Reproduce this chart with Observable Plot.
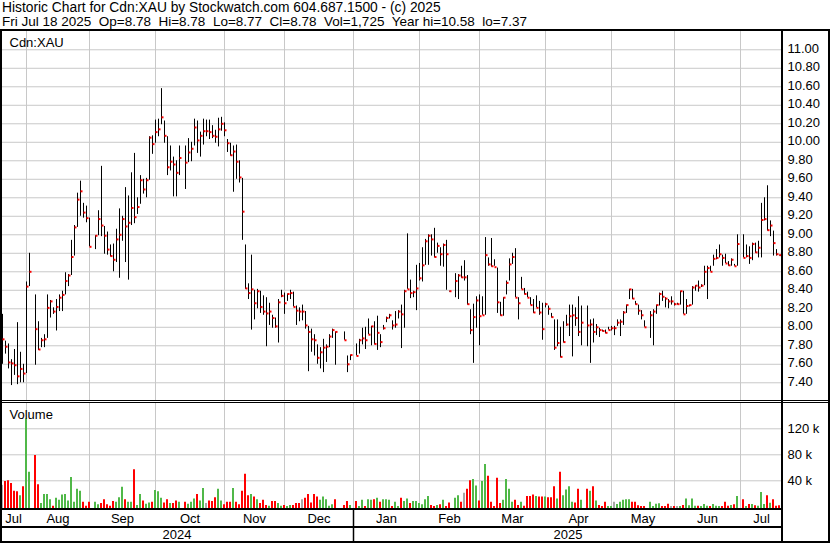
<!DOCTYPE html>
<html><head><meta charset="utf-8">
<script src="https://cdn.jsdelivr.net/npm/d3@7"></script>
<script src="https://cdn.jsdelivr.net/npm/@observablehq/plot@0.6"></script>
<style>
body{margin:0;background:#fff}
#wrap{position:relative;width:830px;height:543px;font-family:"Liberation Sans",Arial,sans-serif;color:#000;overflow:hidden;background:#fff}
.hdr{position:absolute;left:2px;font-size:13.5px;line-height:14px;white-space:pre}
.ln{position:absolute;background:#000}
.panel{position:absolute;left:0}
.panel svg{overflow:visible}
</style></head><body>
<div id="wrap">
<div class="hdr" style="top:1px;font-size:13.8px">Historic Chart for Cdn:XAU by Stockwatch.com 604.687.1500 - (c) 2025</div>
<div class="hdr" style="top:15px">Fri Jul 18 2025  Op=8.78  Hi=8.78  Lo=8.77  Cl=8.78  Vol=1,725  Year hi=10.58  lo=7.37</div>
<div id="price" class="panel" style="top:30px"></div>
<div id="vol" class="panel" style="top:402px"></div>
<div id="axis" class="panel" style="top:510px"></div>
<div class="ln" style="left:0;top:29px;width:830px;height:2px"></div>
<div class="ln" style="left:0;top:29px;width:2px;height:514px"></div>
<div class="ln" style="left:828px;top:29px;width:2px;height:514px"></div>
<div class="ln" style="left:781px;top:29px;width:2px;height:514px"></div>
<div class="ln" style="left:0;top:400px;width:830px;height:1px"></div>
<div class="ln" style="left:0;top:402px;width:830px;height:1px"></div>
<div class="ln" style="left:0;top:508px;width:783px;height:2px"></div>
<div class="ln" style="left:0;top:526px;width:783px;height:2px"></div>
<div class="ln" style="left:0;top:541px;width:830px;height:2px"></div>
</div>
<script>
// one slot per weekday, Jul 22 2024 .. Jul 18 2025 (null = market holiday)
const highs = [
 8.14,7.85,7.82,7.65,7.76,8.05,7.73,7.60,8.49,8.80,
 null,8.35,8.06,7.88,7.92,8.35,8.29,8.21,8.30,8.35,
 8.39,8.59,8.57,8.94,9.10,9.45,9.58,9.34,9.31,9.18,
 null,8.99,9.26,9.74,9.09,9.03,8.89,8.90,9.06,9.28,
 9.20,9.51,9.42,9.67,9.88,9.40,9.64,9.60,9.61,10.06,
 10.07,10.24,10.25,10.58,10.23,10.06,9.96,9.84,9.80,9.96,
 null,9.96,10.04,10.00,10.25,10.23,10.11,10.25,10.24,10.24,
 10.18,10.13,10.26,10.27,10.21,10.03,9.99,9.96,9.97,9.80,
 9.61,8.89,8.47,8.78,8.40,8.41,8.39,8.34,8.32,8.26,
 8.13,8.10,8.30,8.40,8.37,8.36,8.40,8.38,8.23,8.21,
 8.24,8.17,8.01,7.98,7.92,7.81,7.78,7.87,7.81,7.92,
 7.98,7.95,null,null,7.95,7.69,7.70,null,7.82,7.87,
 7.99,8.00,8.09,8.01,8.06,8.12,7.92,8.02,8.11,8.14,
 8.07,8.17,8.18,8.24,8.40,9.01,8.51,8.39,8.67,8.69,
 8.86,8.95,9.00,9.00,9.07,8.91,8.86,8.90,8.94,8.39,
 null,8.58,8.57,8.66,8.72,8.56,8.19,8.25,8.33,8.35,
 8.33,8.97,8.75,8.96,8.73,8.64,8.27,8.32,8.50,8.74,
 8.80,8.85,8.32,8.54,8.42,8.38,8.32,8.30,8.34,8.28,
 8.26,8.26,8.23,8.15,8.08,8.08,8.00,8.06,8.13,8.24,
 8.24,8.21,8.33,8.23,null,8.23,8.08,8.09,8.03,7.99,
 7.97,7.97,8.00,8.01,8.01,8.08,8.08,8.17,8.24,8.41,
 8.41,8.28,8.24,8.18,8.07,null,8.17,8.19,8.24,8.37,
 8.39,8.32,8.30,8.33,8.26,8.26,8.39,8.39,8.30,8.24,
 8.44,8.45,8.50,8.46,8.66,8.66,8.66,8.78,8.84,8.89,
 8.78,8.79,8.71,8.74,8.68,9.00,null,9.00,8.89,8.87,
 8.91,8.91,8.93,9.34,9.40,9.53,9.15,9.04,8.84,8.78];
const lows = [
 7.60,7.71,7.55,7.37,7.48,7.38,7.40,7.40,7.50,8.44,
 null,7.59,7.75,7.78,7.78,7.88,8.10,8.14,7.96,8.17,
 8.17,8.35,8.44,8.56,8.77,9.08,9.20,9.18,9.13,8.87,
 null,8.84,8.99,8.98,8.79,8.78,8.76,8.60,8.70,8.53,
 8.93,8.70,8.51,9.10,9.12,9.22,9.33,9.44,9.40,9.59,
 9.87,9.99,10.06,10.19,9.99,9.64,9.69,9.41,9.41,9.64,
 null,9.49,9.78,9.79,9.96,9.88,9.84,9.97,10.06,10.03,
 10.04,9.99,9.95,10.12,10.06,9.89,9.85,9.46,9.60,9.56,
 8.94,8.41,8.30,7.97,8.08,8.20,8.15,8.13,7.79,8.02,
 7.99,7.99,7.83,8.32,8.14,8.28,8.30,8.22,8.02,8.06,
 8.07,7.98,7.52,7.73,7.69,7.60,7.55,7.51,7.62,7.78,
 7.88,7.59,null,null,7.86,7.51,7.64,null,7.69,7.71,
 7.81,7.76,7.92,7.80,7.81,7.75,7.78,7.97,8.05,8.09,
 7.97,7.99,8.09,7.77,7.99,8.41,8.31,8.32,8.18,8.50,
 8.49,8.67,8.67,8.77,8.75,8.80,8.66,8.65,8.40,8.38,
 null,8.32,8.30,8.53,8.50,8.24,7.92,7.61,7.99,7.80,
 8.13,8.13,8.66,8.65,8.66,8.15,8.12,8.12,8.35,8.50,
 8.68,8.32,8.08,8.41,8.35,8.32,8.24,8.15,8.21,8.13,
 7.86,8.21,8.13,8.10,7.75,7.79,7.67,7.83,8.01,7.90,
 7.68,8.01,7.90,7.80,null,7.79,7.61,7.83,7.91,7.89,
 7.95,7.93,7.97,7.96,7.91,8.01,7.90,8.02,8.15,8.30,
 8.30,8.24,8.13,8.08,8.00,null,7.88,7.80,8.14,8.23,
 8.28,8.21,8.20,8.24,8.23,8.24,8.24,8.14,8.14,8.22,
 8.24,8.39,8.38,8.43,8.45,8.30,8.60,8.66,8.73,8.75,
 8.66,8.69,8.66,8.66,8.66,8.66,null,8.75,8.75,8.68,
 8.72,8.80,8.75,8.75,9.15,9.04,8.98,8.77,8.77,8.77];
const closes = [
 7.87,7.79,7.62,7.61,7.59,7.47,7.55,7.50,8.44,8.60,
 null,7.98,7.76,7.86,7.87,8.21,8.28,8.17,8.22,8.32,
 8.35,8.50,8.56,8.76,9.08,9.38,9.47,9.24,9.18,8.87,
 null,8.99,9.17,9.10,8.99,8.84,8.77,8.73,8.95,9.00,
 9.17,9.09,9.13,9.29,9.19,9.30,9.59,9.49,9.59,10.05,
 9.98,10.11,10.14,10.27,10.07,9.73,9.79,9.76,9.67,9.83,
 null,9.78,9.89,9.93,10.16,10.02,10.07,10.12,10.12,10.11,
 10.07,10.06,10.14,10.20,10.13,9.99,9.86,9.90,9.79,9.62,
 9.25,8.42,8.37,8.41,8.26,8.39,8.22,8.17,8.15,8.17,
 8.10,8.01,8.27,8.34,8.26,8.36,8.37,8.22,8.18,8.17,
 8.17,8.02,7.95,7.87,7.86,7.67,7.73,7.78,7.79,7.90,
 7.97,7.95,null,null,7.86,7.60,7.70,null,7.69,7.86,
 7.88,7.86,7.92,8.01,7.82,7.94,7.84,7.99,8.10,8.13,
 8.02,8.03,8.17,8.14,8.39,8.41,8.37,8.38,8.42,8.53,
 8.67,8.93,8.99,8.95,8.76,8.88,8.79,8.89,8.79,8.39,
 null,8.50,8.56,8.54,8.54,8.25,7.97,8.11,8.29,8.12,
 8.13,8.78,8.68,8.66,8.65,8.27,8.13,8.32,8.48,8.68,
 8.76,8.32,8.26,8.41,8.36,8.32,8.24,8.16,8.21,8.16,
 7.98,8.25,8.20,8.11,7.78,7.83,7.68,7.84,8.03,8.12,
 8.13,8.10,7.95,8.05,null,8.02,8.03,7.95,8.00,7.97,
 7.96,7.94,7.97,7.99,7.99,8.05,8.06,8.16,8.24,8.41,
 8.31,8.25,8.18,8.13,8.00,null,8.13,8.17,8.24,8.36,
 8.33,8.31,8.28,8.28,8.25,8.25,8.39,8.14,8.23,8.24,
 8.43,8.45,8.43,8.45,8.60,8.64,8.60,8.74,8.75,8.79,
 8.75,8.69,8.67,8.73,8.66,8.90,null,8.75,8.77,8.75,
 8.90,8.81,8.86,9.16,9.17,9.05,9.10,8.91,8.79,8.78];
// volume in thousands of shares
const volumes = [
 33,39,40,36,24,23,17,31,135,53,
 null,79,34,5,19,19,11,1,13,10,
 18,19,9,45,7,27,24,7,1,7,
 null,7,3,5,11,3,1,8,7,14,
 30,11,7,7,57,2,19,9,4,6,
 7,25,23,13,6,11,5,5,9,7,
 null,7,4,7,12,19,9,28,5,9,
 8,14,27,9,3,7,7,28,7,3,
 24,50,17,19,15,11,5,10,2,1,
 8,8,5,1,2,0.5,2,2,5,5,
 11,13,19,6,19,15,10,15,11,1,
 3,11,null,null,2,8,2,null,8,0.5,
 10,0.5,11,10,11,13,7,11,11,10,
 0.5,7,0.5,13,8,12,5,8,8,5,
 3,11,16,2,0.5,2,3,10,0.5,6,
 null,13,17,7,21,27,40,42,32,9,
 39,65,47,7,0.5,44,5,10,42,27,
 7,10,2,7,1,16,16,18,16,15,
 15,15,14,14,31,12,53,17,26,31,
 7,6,27,10,null,27,24,31,9,2,
 0.5,7,0.5,0.5,7,3.5,7,10,11,11,
 7,7,1.5,0.5,0.5,null,7,0.5,4,4.6,
 0.5,0.5,4,0.5,0.5,0.5,0.5,2,12,1.5,
 12,1,1,0.5,3.5,1,0.5,3.5,1,0.5,
 0.5,7,1,2,3,16,null,11,0.5,3.5,
 3.5,1.5,1,22,3.5,17,5.6,11,1,1.725];
const monthNames = ["Jul","Aug","Sep","Oct","Nov","Dec","Jan","Feb","Mar","Apr","May","Jun","Jul"];
const monthStarts = [8,29,51,74,94,117,139,159,181,203,224,246]; // weekday slot of each month's first grid line
const yearNames = ["2024","2025"];
const yearStarts = [117];
const priceTicks = [7.4,7.6,7.8,8.0,8.2,8.4,8.6,8.8,9.0,9.2,9.4,9.6,9.8,10.0,10.2,10.4,10.6,10.8,11.0];
const volTicks = [40,80,120];

const n = closes.length;
const bars = [];
let prev = null;
for (let i = 0; i < n; i++) {
  if (closes[i] == null) continue;
  const dir = prev == null ? "#a8a8a8" : closes[i] > prev ? "#50b848" : closes[i] < prev ? "#ff0000" : "#a8a8a8";
  bars.push({i, high: highs[i], low: lows[i], close: closes[i], vol: volumes[i], color: dir});
  prev = closes[i];
}
const xdom = [-2 / 3, n];
const font = '"Liberation Sans", Arial, sans-serif';
const st = {fontFamily: font, fontSize: "13px", background: "transparent", color: "#000", overflow: "visible"};
const grid = {stroke: "#c8c8c8", strokeOpacity: 1, strokeWidth: 1};

const price = Plot.plot({
  width: 830, height: 370, marginLeft: 0, marginRight: 48, marginTop: 0, marginBottom: 0,
  style: st,
  x: {domain: xdom, axis: null},
  y: {domain: [7.2086, 11.2086], axis: null},
  marks: [
    Plot.gridY(priceTicks, grid),
    Plot.gridX(monthStarts, grid),
    Plot.ruleX(bars, {x: "i", y1: "low", y2: "high", stroke: "#000", strokeWidth: 1}),
    Plot.ruleY(bars, {y: "close", x1: d => d.i + 1/6, x2: d => d.i + 5/6, stroke: "#ff0000", strokeWidth: 2}),
    Plot.axisY(priceTicks, {anchor: "right", label: null, tickSize: 0, tickPadding: 5, tickFormat: d => d.toFixed(2), fontSize: 13, textAnchor: "start", dy: -1, fill: "#000"}),
    Plot.text(["Cdn:XAU"], {text: d => d, frameAnchor: "top-left", dx: 9, dy: 7, textAnchor: "start", lineAnchor: "top", fontSize: 13, fill: "#000"})
  ]
});
document.getElementById("price").appendChild(price);

const vol = Plot.plot({
  width: 830, height: 108, marginLeft: 0, marginRight: 48, marginTop: 0, marginBottom: 0,
  style: st,
  x: {domain: xdom, axis: null},
  y: {domain: [-5.692, 160.462], axis: null},
  color: {type: "identity"},
  marks: [
    Plot.gridY(volTicks, grid),
    Plot.gridX(monthStarts, grid),
    Plot.ruleX(bars, {x: "i", y1: -5.692, y2: "vol", stroke: "color", strokeWidth: 2, dx: -0.5}),
    Plot.axisY(volTicks, {anchor: "right", label: null, tickSize: 0, tickPadding: 5, tickFormat: d => d + " k", fontSize: 13, textAnchor: "start", fill: "#000"}),
    Plot.text(["Volume"], {text: d => d, frameAnchor: "top-left", dx: 9, dy: 7, textAnchor: "start", lineAnchor: "top", fontSize: 13, fill: "#000"})
  ]
});
document.getElementById("vol").appendChild(vol);

const bounds = [xdom[0], ...monthStarts, xdom[1]];
const months = monthNames.map((m, k) => ({label: m, mid: (bounds[k] + bounds[k + 1]) / 2}));
const yb = [xdom[0], ...yearStarts, xdom[1]];
const years = yearNames.map((y, k) => ({label: y, mid: (yb[k] + yb[k + 1]) / 2}));

const axis = Plot.plot({
  width: 830, height: 33, marginLeft: 0, marginRight: 48, marginTop: 0, marginBottom: 0,
  style: st,
  x: {domain: xdom, axis: null},
  marks: [
    Plot.ruleX(yearStarts, {stroke: "#000", strokeWidth: 1.5}),
    Plot.text(months, {x: "mid", text: "label", frameAnchor: "top", dy: 8.5, lineAnchor: "middle", fontSize: 13, fill: "#000"}),
    Plot.text(years, {x: "mid", text: "label", frameAnchor: "top", dy: 24.5, lineAnchor: "middle", fontSize: 13, fill: "#000"})
  ]
});
document.getElementById("axis").appendChild(axis);
</script>
</body></html>
